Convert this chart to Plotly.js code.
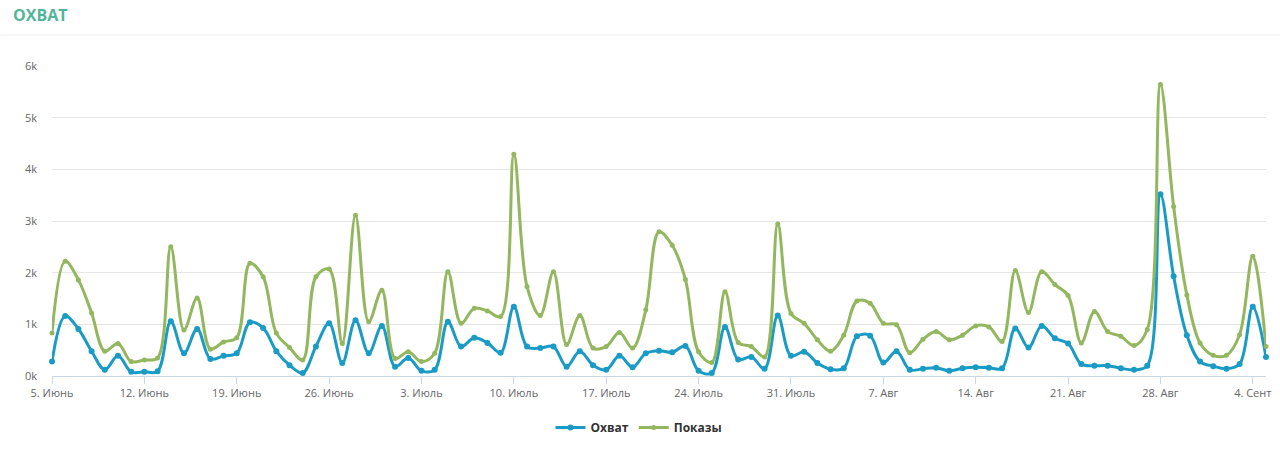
<!DOCTYPE html>
<html>
<head>
<meta charset="utf-8">
<script src="https://cdn.plot.ly/plotly-3.0.1.min.js"></script>
<style>
  html, body { margin: 0; padding: 0; background: #fff; }
  #reach-plot { width: 1280px; height: 455px; }
</style>
</head>
<body>
<div id="reach-plot"></div>
<script>
// daily values, 5 June .. 5 Sept
var startDate = '2023-06-05';
var dayCount = 93;

var reachValues = [
    280, 1160, 910, 480, 120, 390, 80, 80, 90, 1060,
    440, 910, 330, 390, 440, 1040, 930, 480, 210, 60,
    570, 1020, 250, 1080, 440, 970, 180, 350, 100, 120,
    1050, 570, 740, 640, 450, 1340, 570, 540, 570, 180,
    480, 210, 120, 390, 170, 440, 490, 460, 580, 100,
    60, 950, 320, 370, 140, 1170, 390, 470, 250, 130,
    150, 770, 780, 260, 480, 120, 140, 160, 100, 150,
    170, 160, 150, 920, 550, 970, 730, 630, 230, 200,
    200, 150, 120, 200, 3520, 1930, 790, 280, 190, 140,
    230, 1340, 370
];

var viewValues = [
    830, 2220, 1860, 1220, 480, 630, 280, 310, 350, 2500,
    890, 1510, 520, 660, 740, 2180, 1920, 830, 550, 310,
    1920, 2070, 630, 3110, 1050, 1660, 340, 470, 280, 440,
    2020, 1020, 1310, 1260, 1150, 4290, 1730, 1170, 2020, 610,
    1170, 540, 570, 840, 540, 1280, 2790, 2530, 1870, 470,
    260, 1630, 650, 570, 370, 2940, 1210, 1020, 700, 480,
    790, 1450, 1410, 1020, 990, 450, 710, 860, 700, 790,
    970, 950, 670, 2040, 1230, 2020, 1770, 1560, 640, 1250,
    860, 770, 590, 900, 5640, 3280, 1570, 640, 400, 400,
    800, 2320, 570
];

var xTickText = ['5. Июнь', '12. Июнь', '19. Июнь', '26. Июнь', '3. Июль', '10. Июль', '17. Июль',
                 '24. Июль', '31. Июль', '7. Авг', '14. Авг', '21. Авг', '28. Авг', '4. Сент'];
var yTickVals = [0, 1000, 2000, 3000, 4000, 5000, 6000];
var yTickText = ['0k', '1k', '2k', '3k', '4k', '5k', '6k'];

function make_days( start, count ){
    var days = [];
    var t0 = Date.parse(start + 'T00:00:00Z');
    for (var i = 0; i < count; i++) {
        days.push(new Date(t0 + i * 86400000).toISOString().slice(0, 10));
    }
    return days;
}

var days = make_days(startDate, dayCount);
var xTickVals = [];
for (var k = 0; k < xTickText.length; k++) {
    xTickVals.push(days[k * 7]);            // weekly ticks
}

var reach = {
    x: days,
    y: reachValues,
    type: 'scatter',
    mode: 'lines+markers',
    name: 'Охват',
    line: { color: '#1a9bc6', width: 3, shape: 'spline', smoothing: 1 },
    marker: { color: '#1a9bc6', size: 6 },
    cliponaxis: false
};

var views = {
    x: days,
    y: viewValues,
    type: 'scatter',
    mode: 'lines+markers',
    name: 'Показы',
    line: { color: '#93b75e', width: 3, shape: 'spline', smoothing: 1 },
    marker: { color: '#93b75e', size: 5 },
    cliponaxis: false
};

var layout = {
    width: 1280,
    height: 455,
    paper_bgcolor: '#fff',
    plot_bgcolor: '#fff',
    font: { family: '"Open Sans", sans-serif', size: 11, color: '#666' },
    margin: { l: 51.5, r: 14, t: 66, b: 78.5 },
    title: {
        text: 'ОХВАТ',
        font: { family: '"Open Sans", sans-serif', size: 16, color: '#52b59b', weight: 700 },
        xref: 'container', yref: 'container',
        x: 13 / 1280, xanchor: 'left',
        y: 1 - 15 / 455, yanchor: 'middle'
    },
    showlegend: true,
    legend: {
        orientation: 'h',
        x: 0.4835, xanchor: 'center',
        y: -0.166, yanchor: 'middle',
        font: { family: '"Open Sans", sans-serif', size: 12, color: '#333', weight: 700 },
        itemwidth: 30
    },
    xaxis: {
        type: 'date',
        range: [days[0], days[dayCount - 1]],
        tickvals: xTickVals,
        ticktext: xTickText,
        showgrid: false,
        showline: true,
        linecolor: '#ccd6eb',
        linewidth: 1,
        ticks: 'outside',
        ticklen: 7,
        tickcolor: '#ccd6eb',
        zeroline: false,
        fixedrange: true
    },
    yaxis: {
        range: [0, 6000],
        tickvals: yTickVals,
        ticktext: yTickText,
        showgrid: true,
        gridcolor: '#e6e6e6',
        gridwidth: 1,
        zeroline: false,
        showline: false,
        ticks: '',
        ticklabelstandoff: 14,
        fixedrange: true
    },
    shapes: [{
        type: 'line',
        xref: 'paper', yref: 'paper',
        x0: -51.5 / 1214.5, x1: 1 + 14 / 1214.5,
        y0: (376.5 - 35) / 310.5, y1: (376.5 - 35) / 310.5,
        line: { color: '#eeeeee', width: 1 }
    }]
};

var additional_param = {
    displayModeBar: false,
    responsive: false
};

Plotly.newPlot('reach-plot', [reach, views], layout, additional_param);
</script>
</body>
</html>
